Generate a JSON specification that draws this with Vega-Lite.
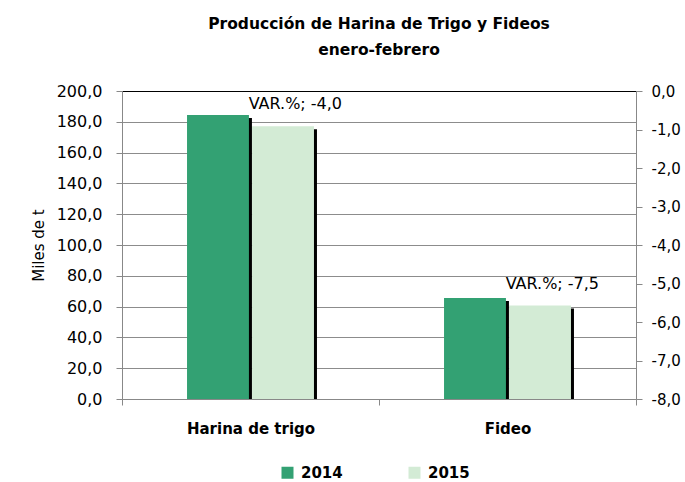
{
  "$schema": "https://vega.github.io/schema/vega-lite/v6.json",
  "autosize": "none",
  "width": 514,
  "height": 308,
  "padding": {"left": 122, "top": 91, "right": 49, "bottom": 83},
  "background": "white",
  "title": {
    "text": ["Producción de Harina de Trigo y Fideos", "enero-febrero"],
    "font": "DejaVu Sans",
    "fontSize": 15.5,
    "fontWeight": "bold",
    "color": "#000000",
    "anchor": "middle",
    "lineHeight": 26,
    "offset": 25
  },
  "data": {
    "values": [
      {"producto": "Harina de trigo", "anio": "2014", "valor": 184.4},
      {"producto": "Harina de trigo", "anio": "2015", "valor": 177.1, "var": -4.0, "etiqueta": "VAR.%; -4,0"},
      {"producto": "Fideo", "anio": "2014", "valor": 65.6},
      {"producto": "Fideo", "anio": "2015", "valor": 60.7, "var": -7.5, "etiqueta": "VAR.%; -7,5"}
    ]
  },
  "encoding": {
    "x": {
      "field": "producto",
      "type": "nominal",
      "sort": ["Harina de trigo", "Fideo"],
      "scale": {"paddingInner": 0, "paddingOuter": 0},
      "axis": {
        "title": null,
        "labelAngle": 0,
        "tickBand": "extent",
        "labelFont": "DejaVu Sans",
        "labelFontSize": 15,
        "labelFontWeight": "bold",
        "labelColor": "#000000",
        "labelPadding": 16,
        "domainColor": "#888888",
        "tickColor": "#888888",
        "tickSize": 6,
        "grid": false
      }
    }
  },
  "layer": [
    {
      "encoding": {
        "y": {
          "field": "valor",
          "type": "quantitative",
          "scale": {"domain": [0, 200]},
          "axis": {
            "title": "Miles de t",
            "titleFont": "DejaVu Sans",
            "titleFontSize": 15,
            "titleFontWeight": "normal",
            "titleColor": "#000000",
            "titlePadding": 10,
            "values": [0, 20, 40, 60, 80, 100, 120, 140, 160, 180, 200],
            "format": ".1f",
            "labelFont": "DejaVu Sans",
            "labelFontSize": 16,
            "labelColor": "#000000",
            "labelPadding": 14,
            "tickSize": 6,
            "tickColor": "#888888",
            "domainColor": "#888888",
            "gridColor": {"condition": {"test": "datum.value === 200", "value": "#000000"}, "value": "#8c8c8c"},
            "grid": true
          }
        }
      },
      "layer": [
        {
          "mark": {"type": "bar", "color": "#000000", "yOffset": 3, "clip": true},
          "encoding": {
            "xOffset": {"field": "anio", "type": "nominal", "scale": {"domain": ["2014", "2015"], "paddingInner": 0.048, "paddingOuter": 1.063, "range": [3, 260]}}
          }
        },
        {
          "mark": {"type": "bar"},
          "encoding": {
            "xOffset": {"field": "anio", "type": "nominal", "scale": {"domain": ["2014", "2015"], "paddingInner": 0.048, "paddingOuter": 1.063}},
            "color": {
              "field": "anio",
              "type": "nominal",
              "scale": {"domain": ["2014", "2015"], "range": ["#33A173", "#D3EBD5"]},
              "legend": {
                "title": null,
                "orient": "none",
                "legendX": 158,
                "legendY": 374,
                "direction": "horizontal",
                "symbolType": "square",
                "symbolSize": 144,
                "symbolStrokeWidth": 0,
                "labelFont": "DejaVu Sans",
                "labelFontSize": 15,
                "labelFontWeight": "bold",
                "labelColor": "#000000",
                "labelOffset": 6,
                "columnPadding": 64
              }
            }
          }
        },
        {
          "transform": [{"filter": "datum.anio === '2015'"}],
          "mark": {"type": "text", "font": "DejaVu Sans", "fontSize": 16, "color": "#000000", "dx": 2, "dy": -22, "baseline": "middle", "align": "center"},
          "encoding": {
            "xOffset": {"field": "anio", "type": "nominal", "scale": {"domain": ["2014", "2015"], "paddingInner": 0.048, "paddingOuter": 1.063}},
            "text": {"field": "etiqueta"}
          }
        }
      ],
      "resolve": {"scale": {"xOffset": "independent"}}
    },
    {
      "transform": [{"filter": "datum.anio === '2015'"}],
      "mark": {"type": "point", "opacity": 0},
      "encoding": {
        "y": {
          "field": "var",
          "type": "quantitative",
          "scale": {"domain": [-8, 0]},
          "axis": {
            "orient": "right",
            "title": null,
            "values": [-8, -7, -6, -5, -4, -3, -2, -1, 0],
            "format": ".1f",
            "labelFont": "DejaVu Sans",
            "labelFontSize": 15,
            "labelColor": "#000000",
            "labelPadding": 9,
            "tickSize": 6,
            "tickColor": "#888888",
            "domainColor": "#888888",
            "grid": false
          }
        }
      }
    }
  ],
  "resolve": {"scale": {"y": "independent"}},
  "config": {
    "view": {"stroke": null},
    "locale": {"number": {"decimal": ",", "thousands": ".", "grouping": [3], "currency": ["", " €"], "minus": "-"}}
  }
}
